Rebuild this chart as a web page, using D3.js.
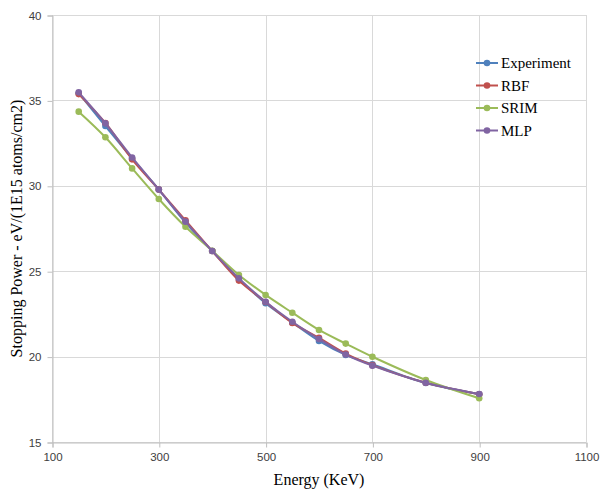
<!DOCTYPE html>
<html>
<head>
<meta charset="utf-8">
<script src="https://cdn.jsdelivr.net/npm/d3@7"></script>
<style>
  body { margin: 0; background: #fff; }
  #chart { width: 600px; height: 489px; }
</style>
</head>
<body>
<div id="chart"></div>
<script>
// energies (KeV)
const energy = [150, 200, 250, 300, 350, 400, 450, 500, 550, 600, 650, 700, 800, 900];

const experiment = [35.42, 33.50, 31.60, 29.78, 27.85, 26.18, 24.55, 23.12, 22.00, 20.92, 20.10, 19.55, 18.45, 17.80];
const rbf        = [35.37, 33.68, 31.55, 29.78, 27.98, 26.18, 24.45, 23.20, 21.97, 21.10, 20.18, 19.50, 18.47, 17.80];
const srim       = [34.34, 32.84, 31.02, 29.23, 27.60, 26.20, 24.78, 23.61, 22.57, 21.56, 20.76, 19.99, 18.63, 17.56];
const mlp        = [35.47, 33.66, 31.66, 29.78, 27.90, 26.18, 24.58, 23.21, 22.04, 21.03, 20.12, 19.47, 18.47, 17.81];

const seriesNames = ['Experiment', 'RBF', 'SRIM', 'MLP'];
const seriesValues = [experiment, rbf, srim, mlp];

const xTicks = [100, 300, 500, 700, 900, 1100];
const yTicks = [15, 20, 25, 30, 35, 40];

const colors = ['#4F81BD', '#C0504D', '#9BBB59', '#8064A2'];

const width = 600, height = 489;
const margin = { top: 15, right: 14, bottom: 47, left: 52 };
const w = width - margin.left - margin.right;
const h = height - margin.top - margin.bottom;

const svg = d3.select('#chart').append('svg')
  .attr('width', width)
  .attr('height', height);

const g = svg.append('g')
  .attr('transform', `translate(${margin.left},${margin.top})`);

const x = d3.scaleLinear().domain([100, 1100]).range([0, w]);
const y = d3.scaleLinear().domain([15, 40]).range([h, 0]);

// gridlines
g.append('g')
  .selectAll('line')
  .data(yTicks)
  .enter().append('line')
  .attr('x1', 0).attr('x2', w)
  .attr('y1', d => Math.round(y(d)) + 0.5)
  .attr('y2', d => Math.round(y(d)) + 0.5)
  .attr('stroke', '#d9d9d9');

g.append('g')
  .selectAll('line')
  .data(xTicks)
  .enter().append('line')
  .attr('y1', 0).attr('y2', h)
  .attr('x1', d => Math.round(x(d)) + 0.5)
  .attr('x2', d => Math.round(x(d)) + 0.5)
  .attr('stroke', '#d9d9d9');

// axes
const xAxis = g.append('g')
  .attr('transform', `translate(0.5,${Math.round(h) + 0.5})`)
  .call(d3.axisBottom(x).tickValues(xTicks).tickFormat(d3.format('d')).tickSize(5).tickPadding(5));

const yAxis = g.append('g')
  .attr('transform', 'translate(0.5,0.5)')
  .call(d3.axisLeft(y).tickValues(yTicks).tickFormat(d3.format('d')).tickSize(5).tickPadding(6));

[xAxis, yAxis].forEach(a => {
  a.select('.domain').attr('stroke', '#bfbfbf');
  a.selectAll('.tick line').attr('stroke', '#bfbfbf');
  a.selectAll('.tick text')
    .attr('fill', '#404040')
    .style('font-family', 'Liberation Sans, Arial, sans-serif')
    .style('font-size', '11.5px');
});

// series
const line = d3.line()
  .x(d => x(d[0]))
  .y(d => y(d[1]))
  .curve(d3.curveCatmullRom.alpha(0.5));

seriesValues.forEach((vals, i) => {
  const pts = energy.map((e, j) => [e, vals[j]]);
  g.append('path')
    .datum(pts)
    .attr('fill', 'none')
    .attr('stroke', colors[i])
    .attr('stroke-width', 2)
    .attr('d', line);
  g.append('g')
    .selectAll('circle')
    .data(pts)
    .enter().append('circle')
    .attr('cx', d => x(d[0]))
    .attr('cy', d => y(d[1]))
    .attr('r', 3.3)
    .attr('fill', colors[i]);
});

// axis titles
svg.append('text')
  .attr('x', margin.left + w / 2)
  .attr('y', 485)
  .attr('text-anchor', 'middle')
  .style('font-family', 'Liberation Serif, Times New Roman, serif')
  .style('font-size', '16px')
  .attr('fill', '#000')
  .text('Energy (KeV)');

svg.append('text')
  .attr('transform', `translate(22,${margin.top + h / 2}) rotate(-90)`)
  .attr('text-anchor', 'middle')
  .style('font-family', 'Liberation Serif, Times New Roman, serif')
  .style('font-size', '16px')
  .attr('fill', '#000')
  .text('Stopping Power - eV/(1E15 atoms/cm2)');

// legend
const legend = svg.append('g').attr('transform', 'translate(476,63)');
seriesNames.forEach((name, i) => {
  const row = legend.append('g').attr('transform', `translate(0,${i * 22.5})`);
  row.append('line')
    .attr('x1', 0).attr('x2', 22)
    .attr('stroke', colors[i])
    .attr('stroke-width', 2);
  row.append('circle')
    .attr('cx', 11).attr('r', 3.3)
    .attr('fill', colors[i]);
  row.append('text')
    .attr('x', 25)
    .attr('dy', '0.35em')
    .style('font-family', 'Liberation Serif, Times New Roman, serif')
    .style('font-size', '15px')
    .attr('fill', '#000')
    .text(name);
});
</script>
</body>
</html>
